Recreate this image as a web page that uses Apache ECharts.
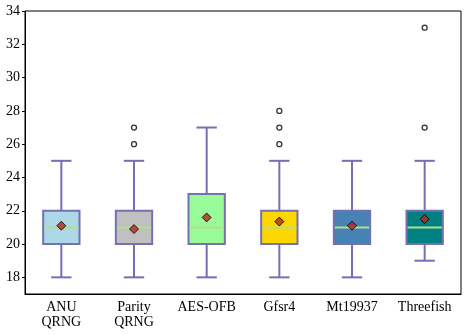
<!DOCTYPE html>
<html>
<head>
<meta charset="utf-8">
<script src="https://cdn.jsdelivr.net/npm/echarts@6/dist/echarts.min.js"></script>
<style>
  html, body { margin: 0; padding: 0; background: #fff; }
  #chart { width: 470px; height: 335px; }
</style>
</head>
<body>
<div id="chart"></div>
<script>
// categories and box statistics
const categories = ["ANU\nQRNG", "Parity\nQRNG", "AES-OFB", "Gfsr4", "Mt19937", "Threefish"]
const whiskerLow = [18, 18, 18, 18, 18, 19]
const q1 = [20, 20, 20, 20, 20, 20]
const median = [21, 21, 21, 21, 21, 21]
const q3 = [22, 22, 23, 22, 22, 22]
const whiskerHigh = [25, 25, 27, 25, 25, 25]
const means = [21.1, 20.9, 21.6, 21.35, 21.1, 21.5]
// outliers as [category index, value]
const outliers = [[1, 26], [1, 27], [3, 26], [3, 27], [3, 28], [5, 27], [5, 33]]
const boxColors = ["#add8e6", "#c0c0c0", "#98fb98", "#ffd700", "#4682b4", "#008080"]
const yTicks = [18, 20, 22, 24, 26, 28, 30, 32, 34]

const edgeColor = "#7570b3"
const medianColor = "#b2df8a"
const font = "'Liberation Serif', serif"

const boxData = categories.map((c, i) => [i, whiskerLow[i], q1[i], median[i], q3[i], whiskerHigh[i]])

const renderBox = (params, api) => {
  const i = api.value(0)
  const bandW = api.size([1, 0])[0]
  const boxW = bandW * 0.5
  const capW = bandW * 0.28
  const pLo = api.coord([i, api.value(1)])
  const pQ1 = api.coord([i, api.value(2)])
  const pMed = api.coord([i, api.value(3)])
  const pQ3 = api.coord([i, api.value(4)])
  const pHi = api.coord([i, api.value(5)])
  const x = pLo[0]
  const line = (x1, y1, x2, y2, color) => ({
    type: "line",
    shape: { x1, y1, x2, y2 },
    style: { stroke: color, lineWidth: 2 }
  })
  return {
    type: "group",
    children: [
      line(x, pLo[1], x, pQ1[1], edgeColor),
      line(x, pQ3[1], x, pHi[1], edgeColor),
      line(x - capW / 2, pLo[1], x + capW / 2, pLo[1], edgeColor),
      line(x - capW / 2, pHi[1], x + capW / 2, pHi[1], edgeColor),
      {
        type: "rect",
        shape: { x: x - boxW / 2, y: pQ3[1], width: boxW, height: pQ1[1] - pQ3[1] },
        style: { fill: boxColors[i], stroke: edgeColor, lineWidth: 2 }
      },
      line(x - boxW / 2 + 1, pMed[1], x + boxW / 2 - 1, pMed[1], medianColor)
    ]
  }
}

const chart = echarts.init(document.getElementById("chart"), null, { renderer: "canvas" })

chart.setOption({
  animation: false,
  grid: {
    left: 25,
    right: 9,
    top: 11,
    bottom: 41,
    show: true,
    borderColor: "#000",
    borderWidth: 1
  },
  xAxis: {
    type: "category",
    data: categories,
    axisLine: { lineStyle: { color: "#000" } },
    axisTick: { alignWithLabel: true, length: 3, lineStyle: { color: "#000" } },
    axisLabel: { interval: 0, color: "#000", fontFamily: font, fontSize: 14, lineHeight: 15, margin: 6 },
    splitLine: { show: false }
  },
  yAxis: {
    type: "value",
    min: 17,
    max: 34,
    interval: 1,
    axisLine: { show: true, lineStyle: { color: "#000" } },
    axisTick: { show: true, length: 3, customValues: yTicks, lineStyle: { color: "#000" } },
    axisLabel: { color: "#000", fontFamily: font, fontSize: 14, margin: 5, customValues: yTicks },
    splitLine: { show: false }
  },
  series: [
    {
      type: "custom",
      renderItem: renderBox,
      data: boxData,
      encode: { x: 0, y: [1, 2, 3, 4, 5] },
      z: 2
    },
    {
      type: "scatter",
      data: outliers,
      symbol: "circle",
      symbolSize: 5,
      itemStyle: { color: "#fff", borderColor: "#000", borderWidth: 1.3 },
      z: 3
    },
    {
      type: "scatter",
      data: means.map((m, i) => [i, m]),
      symbol: "diamond",
      symbolSize: 9,
      itemStyle: { color: "#b8231d", borderColor: "#000", borderWidth: 1 },
      z: 4
    }
  ]
})
</script>
</body>
</html>
